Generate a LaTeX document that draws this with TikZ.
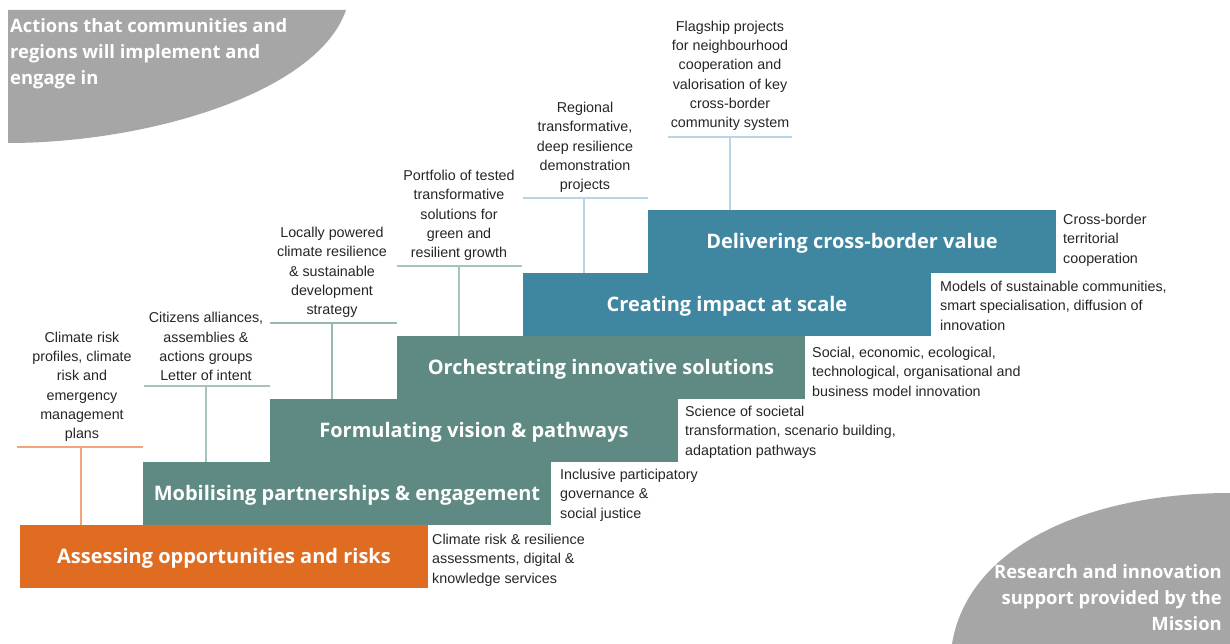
\documentclass[tikz,border=0pt]{standalone}
\usepackage{fontspec}
\setmainfont{Liberation Sans}
\newfontfamily\titlefont{Open Sans}
\definecolor{orangeS}{HTML}{E06C22}
\definecolor{tealS}{HTML}{5F8A84}
\definecolor{blueS}{HTML}{3F86A1}
\definecolor{grayS}{HTML}{A6A6A6}
\definecolor{lineO}{HTML}{F2A57A}
\definecolor{lineT}{HTML}{A5C4BF}
\definecolor{lineB}{HTML}{B7D6E3}
\begin{document}
\begin{tikzpicture}[x=1pt,y=-1pt,
  stepbox/.style={minimum width=408pt, minimum height=63pt, inner sep=0pt, text=white,
    text height=16pt, text depth=2pt,
    font=\titlefont\bfseries\fontsize{20}{24}\selectfont},
  toplabel/.style={anchor=south, align=center, inner sep=0pt, text=black!85,
    font=\fontsize{14.3}{19.3}\selectfont},
  sidelabel/.style={anchor=north west, align=left, inner sep=0pt, text=black!85,
    font=\fontsize{14.3}{19.5}\selectfont},
  cornertext/.style={inner sep=0pt, text=white,
    font=\titlefont\bfseries\fontsize{18.4}{26}\selectfont},
  rule/.style={line width=1.5pt}
]
\useasboundingbox[fill=white] (0,0) rectangle (1230,644);

% gray corner shapes
\fill[grayS] (8,10) -- (346,10) .. controls (318,92) and (150,143) .. (8,143) -- cycle;
\fill[grayS] (952,644) .. controls (968,545) and (1090,493) .. (1230,493) -- (1230,644) -- cycle;
\node[cornertext, anchor=north west, align=left] (ctl) at (10,18.4)
  {Actions that communities and\\regions will implement and\\engage in};
\node[cornertext, anchor=north east, align=right] (cbr) at (1222,564.4)
  {Research and innovation\\support provided by the\\Mission};

% steps
\node[stepbox, fill=orangeS] (s1) at (224,556.5) {Assessing opportunities and risks};
\node[stepbox, fill=tealS]   (s2) at (347,493.5) {Mobilising partnerships \& engagement};
\node[stepbox, fill=tealS]   (s3) at (474,430.5) {Formulating vision \& pathways};
\node[stepbox, fill=tealS]   (s4) at (601,367.5) {Orchestrating innovative solutions};
\node[stepbox, fill=blueS]   (s5) at (727,304.5) {Creating impact at scale};
\node[stepbox, fill=blueS]   (s6) at (852,241.5) {Delivering cross-border value};

% side labels
\node[sidelabel] (d1) at (432,533.5) {Climate risk \& resilience\\assessments, digital \&\\knowledge services};
\node[sidelabel] (d2) at (560,468.5) {Inclusive participatory\\governance \&\\social justice};
\node[sidelabel] (d3) at (685,405.5) {Science of societal\\transformation, scenario building,\\adaptation pathways};
\node[sidelabel] (d4) at (812,346.5) {Social, economic, ecological,\\technological, organisational and\\business model innovation};
\node[sidelabel] (d5) at (940,280.5) {Models of sustainable communities,\\smart specialisation, diffusion of\\innovation};
\node[sidelabel] (d6) at (1063,213.5) {Cross-border\\territorial\\cooperation};

% top labels
\node[toplabel] (t1) at (82,442) {Climate risk\\profiles, climate\\risk and\\emergency\\management\\plans};
\node[toplabel] (t2) at (206,381) {Citizens alliances,\\assemblies \&\\actions groups\\Letter of intent};
\node[toplabel] (t3) at (332,318) {Locally powered\\climate resilience\\\& sustainable\\development\\strategy};
\node[toplabel] (t4) at (459,261) {Portfolio of tested\\transformative\\solutions for\\green and\\resilient growth};
\node[toplabel] (t5) at (585,193) {Regional\\transformative,\\deep resilience\\demonstration\\projects};
\node[toplabel] (t6) at (730,131) {Flagship projects\\for neighbourhood\\cooperation and\\valorisation of key\\cross-border\\community system};

% rules and connectors
\coordinate (r1w) at (17,447);  \coordinate (r1e) at (143,447); \coordinate (r1) at (81,447);
\coordinate (r2w) at (144,386); \coordinate (r2e) at (270,386); \coordinate (r2) at (206,386);
\coordinate (r3w) at (270,323); \coordinate (r3e) at (397,323); \coordinate (r3) at (332,323);
\coordinate (r4w) at (397,266); \coordinate (r4e) at (522,266); \coordinate (r4) at (459,266);
\coordinate (r5w) at (523,198); \coordinate (r5e) at (648,198); \coordinate (r5) at (584,198);
\coordinate (r6w) at (668,137); \coordinate (r6e) at (792,137); \coordinate (r6) at (730,137);

\draw[rule, lineO] (r1w) -- (r1e);
\draw[rule, lineO] (r1) -- (r1 |- s1.north);
\draw[rule, lineT] (r2w) -- (r2e);
\draw[rule, lineT] (r2) -- (r2 |- s2.north);
\draw[rule, lineT!80!tealS] (r3w) -- (r3e);
\draw[rule, lineT!80!tealS] (r3) -- (r3 |- s3.north);
\draw[rule, lineT] (r4w) -- (r4e);
\draw[rule, lineT] (r4) -- (r4 |- s4.north);
\draw[rule, lineB] (r5w) -- (r5e);
\draw[rule, lineB] (r5) -- (r5 |- s5.north);
\draw[rule, lineB] (r6w) -- (r6e);
\draw[rule, lineB] (r6) -- (r6 |- s6.north);
\end{tikzpicture}
\end{document}
